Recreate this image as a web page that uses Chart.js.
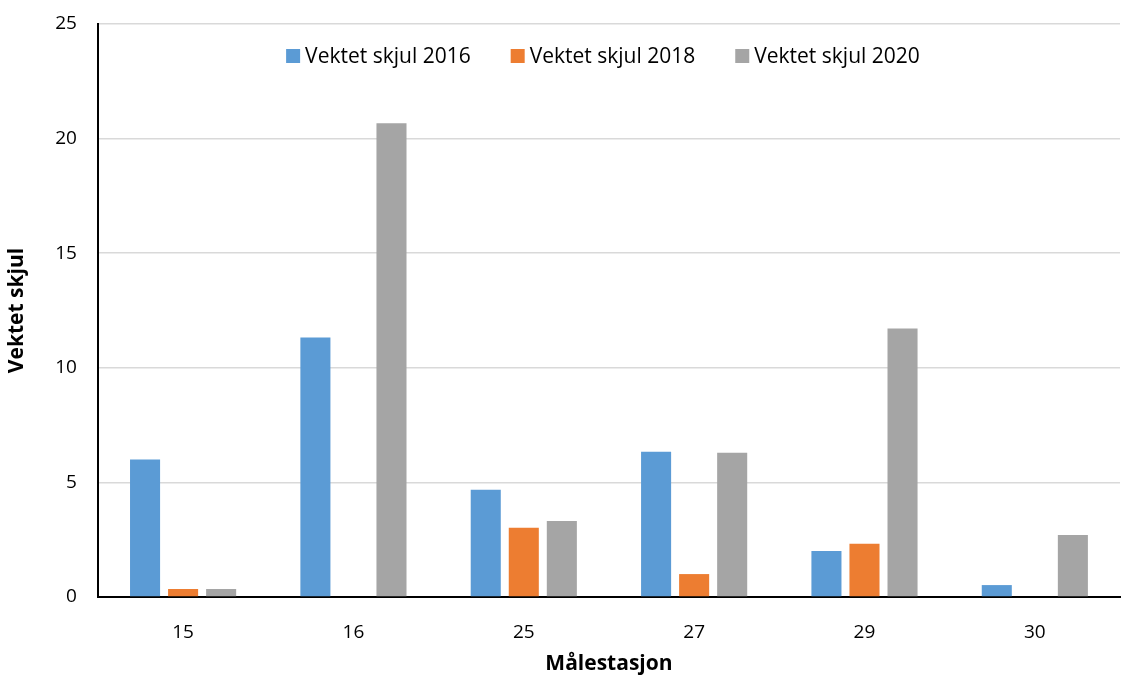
<!DOCTYPE html>
<html>
<head>
<meta charset="utf-8">
<script src="https://cdn.jsdelivr.net/npm/chart.js@4/dist/chart.umd.min.js"></script>
<style>
  html, body { margin: 0; padding: 0; background: #fff; }
  #wrap { width: 1126px; height: 677px; }
</style>
</head>
<body>
<div id="wrap"><canvas id="chart" width="1126" height="677"></canvas></div>
<script>
var stations = ["15", "16", "25", "27", "29", "30"];
var skjul2016 = [6.0, 11.32, 4.68, 6.34, 2.01, 0.52];
var skjul2018 = [0.35, 0, 3.02, 1.0, 2.32, 0];
var skjul2020 = [0.35, 20.67, 3.32, 6.29, 11.71, 2.71];

var FONT = "'Open Sans', 'Liberation Sans', sans-serif";
var TEXT = "#000";
var LEGEND_SIZE = 21;

function barSet(label, data, color) {
  return {
    label: label,
    data: data,
    backgroundColor: color,
    borderWidth: 0,
    categoryPercentage: 0.67,
    barPercentage: 0.79,
  };
}

// legend drawn inside the plot area, near the top, like the original
var innerLegend = {
  id: "innerLegend",
  afterDraw: function (chart) {
    var ctx = chart.ctx;
    var area = chart.chartArea;
    var sets = chart.data.datasets;
    var box = 14, gap = 5, spacing = 40;
    ctx.save();
    ctx.font = LEGEND_SIZE + "px " + FONT;
    var widths = sets.map(function (ds) {
      return box + gap + ctx.measureText(ds.label).width;
    });
    var total = widths.reduce(function (a, b) { return a + b; }, 0) + spacing * (sets.length - 1);
    var x = (area.left + area.right) / 2 - total / 2 - 6;
    var y = area.top + 32;
    ctx.textBaseline = "middle";
    ctx.textAlign = "left";
    sets.forEach(function (ds, i) {
      ctx.fillStyle = ds.backgroundColor;
      ctx.fillRect(x, y - box / 2, box, box);
      ctx.fillStyle = TEXT;
      ctx.fillText(ds.label, x + box + gap, y + 1);
      x += widths[i] + spacing;
    });
    ctx.restore();
  },
};

new Chart(document.getElementById("chart").getContext("2d"), {
  type: "bar",
  data: {
    labels: stations,
    datasets: [
      barSet("Vektet skjul 2016", skjul2016, "#5b9bd5"),
      barSet("Vektet skjul 2018", skjul2018, "#ed7d31"),
      barSet("Vektet skjul 2020", skjul2020, "#a5a5a5"),
    ],
  },
  plugins: [innerLegend],
  options: {
    responsive: false,
    animation: false,
    layout: { padding: { top: 24, right: 6, bottom: 0, left: 4 } },
    plugins: {
      legend: { display: false },
      tooltip: { enabled: false },
    },
    scales: {
      x: {
        grid: { display: false },
        border: { color: "#000", width: 2 },
        ticks: { color: TEXT, padding: 16, font: { family: FONT, size: 19 } },
        title: {
          display: true,
          text: "Målestasjon",
          color: TEXT,
          padding: { top: -8, bottom: 0 },
          font: { family: FONT, size: 21, weight: "bold" },
        },
      },
      y: {
        min: 0,
        max: 25,
        afterFit: function (scale) {
          scale.paddingTop = 0;
        },
        ticks: {
          stepSize: 5,
          color: TEXT,
          padding: 21,
          font: { family: FONT, size: 19 },
        },
        grid: { color: "#d9d9d9", lineWidth: 1.5, drawTicks: false },
        border: { color: "#000", width: 2 },
        title: {
          display: true,
          text: "Vektet skjul",
          color: TEXT,
          padding: { top: 0, bottom: 5 },
          font: { family: FONT, size: 21, weight: "bold" },
        },
      },
    },
  },
});
</script>
</body>
</html>
